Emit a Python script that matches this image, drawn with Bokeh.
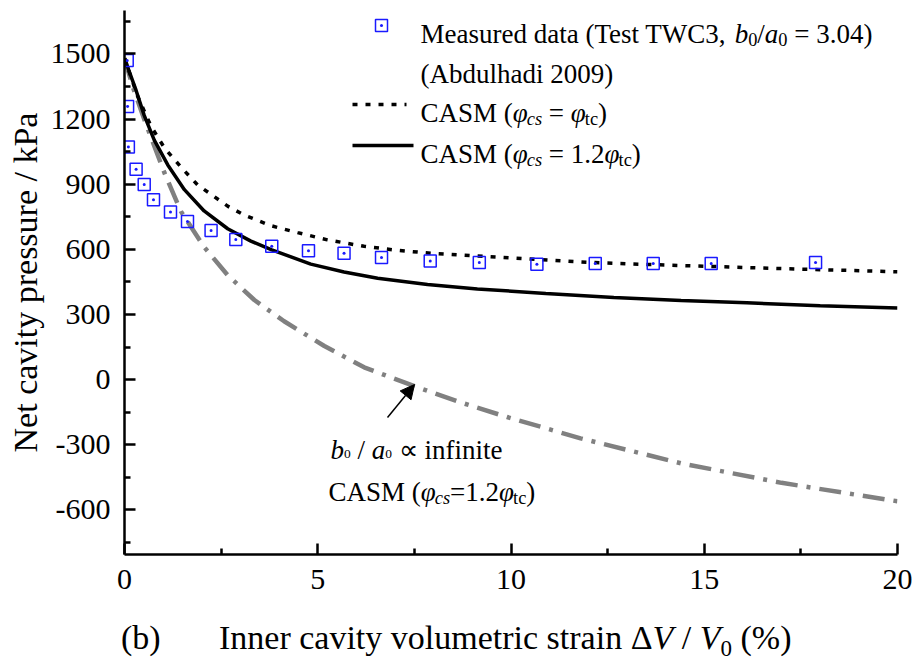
from bokeh.plotting import figure
from bokeh.layouts import column
from bokeh.models import Range1d, FixedTicker, Label, Arrow, NormalHead, Div
from bokeh.embed import file_html
from bokeh.resources import INLINE

# ---------------- data ----------------
meas_x = [0.07, 0.08, 0.10, 0.30, 0.51, 0.75, 1.19, 1.63, 2.24, 2.88, 3.81, 4.76, 5.68, 6.65, 7.91, 9.18, 10.67, 12.18, 13.68, 15.18, 17.88]
meas_y = [1470, 1258, 1071, 969, 899, 829, 772, 728, 687, 646, 614, 594, 582, 563, 547, 540, 531, 535, 535, 535, 540]

casm_x = [0, 0.34, 0.69, 1.03, 1.46, 1.89, 2.67, 3.10, 3.79, 4.48, 5.25, 6.20, 7.00, 7.93, 9.13, 10.5, 12.06, 13.6, 15.24, 17.5, 20.0]
casm_y = [1480, 1305, 1166, 1068, 979, 897, 799, 758, 709, 677, 644, 614, 597, 582, 570, 556, 540, 530, 521, 509, 497]

casm12_x = [0, 0.30, 0.51, 0.77, 1.12, 1.55, 2.06, 2.67, 3.27, 3.81, 4.82, 5.68, 6.55, 7.84, 9.13, 10.9, 12.66, 14.4, 16.1, 18.0, 20.0]
casm12_y = [1480, 1332, 1217, 1103, 989, 875, 777, 695, 638, 598, 532, 496, 467, 438, 418, 397, 378, 365, 354, 341, 330]

inf_x = [0, 0.22, 0.51, 1.03, 1.46, 2.06, 2.67, 3.36, 4.13, 5.17, 6.20, 7.50, 8.70, 9.90, 11.8, 14.4, 17.0, 20.0]
inf_y = [1480, 1345, 1199, 954, 775, 611, 481, 367, 269, 155, 57, -30, -105, -172, -270, -385, -475, -560]

x_ticks = [0, 5, 10, 15, 20]
x_minor = [2.5, 7.5, 12.5, 17.5]
y_ticks = [-600, -300, 0, 300, 600, 900, 1200, 1500]
y_minor = [-750, -450, -150, 150, 450, 750, 1050, 1350, 1650]
y_labels = {-600: "-600", -300: "-300"}

# ---------------- layout ----------------
W = 912
H1, H2 = 612, 48
BL, BR, BT, BB = 124, 15, 10, 58
X_MIN, X_MAX = 0, 20
Y_MIN, Y_MAX = -805, 1700
FW = W - BL - BR
FH = H1 - BT - BB
PX_X = FW / (X_MAX - X_MIN)
PX_Y = FH / (Y_MAX - Y_MIN)
FONT = "Liberation Serif"
AXFONT = "'Liberation Serif', 'Times New Roman', serif"


def dx(px):
    return X_MIN + (px - BL) / PX_X


def dy(py):
    return Y_MAX - (py - BT) / PX_Y


p = figure(width=W, height=H1, output_backend="svg", toolbar_location=None,
           x_range=Range1d(X_MIN, X_MAX), y_range=Range1d(Y_MIN, Y_MAX),
           min_border_left=BL, min_border_right=BR,
           min_border_top=BT, min_border_bottom=BB)
p.outline_line_color = None
p.grid.visible = False

for ax in (p.xaxis[0], p.yaxis[0]):
    ax.axis_line_width = 2.5
    ax.axis_line_color = "black"
    ax.major_tick_line_width = 2.5
    ax.minor_tick_line_width = 2.5
    ax.major_tick_line_color = "black"
    ax.minor_tick_line_color = "black"
    ax.major_tick_in = 11
    ax.major_tick_out = 0
    ax.minor_tick_in = 6
    ax.minor_tick_out = 0
    ax.major_label_text_font = AXFONT
    ax.major_label_text_font_size = "30px"
    ax.major_label_text_font_style = "normal"
    ax.major_label_text_color = "black"

p.xaxis[0].ticker = FixedTicker(ticks=x_ticks, minor_ticks=x_minor)
p.yaxis[0].ticker = FixedTicker(ticks=y_ticks, minor_ticks=y_minor)
p.yaxis[0].major_label_overrides = y_labels
p.xaxis[0].major_label_standoff = 15
p.yaxis[0].major_label_standoff = 14

p.yaxis[0].axis_label = "Net cavity pressure / kPa"
p.yaxis[0].axis_label_text_font = AXFONT
p.yaxis[0].axis_label_text_font_size = "34px"
p.yaxis[0].axis_label_text_font_style = "normal"
p.yaxis[0].axis_label_text_color = "black"
p.yaxis[0].axis_label_standoff = 4

# ---------------- series ----------------
p.line(inf_x, inf_y, line_color="#808080", line_width=4.5, line_dash="22 9 4 9")
p.line(casm_x, casm_y, line_color="black", line_width=3.5, line_dash="5 8")
p.line(casm12_x, casm12_y, line_color="black", line_width=3.5)
p.scatter(meas_x, meas_y, marker="square_dot", size=12, line_color="#1a1aff",
          fill_color=None, line_width=1.5)

# ---------------- rich text helper ----------------
REG = {' ': 250, '(': 333, ')': 333, '=': 564, '.': 250, ',': 250, '/': 278, '%': 833,
       'A': 722, 'C': 667, 'D': 722, 'I': 333, 'M': 889, 'S': 556, 'T': 611, 'V': 722,
       'W': 944, 'a': 444, 'b': 500, 'c': 444, 'd': 500, 'e': 444, 'f': 333, 'h': 500,
       'i': 278, 'l': 278, 'm': 778, 'n': 500, 'o': 500, 'r': 333, 's': 389, 't': 278,
       'u': 500, 'v': 500, 'y': 500, 'Δ': 612, '∝': 713}
for d in "0123456789":
    REG[d] = 500
ITA = {'a': 500, 'b': 500, 'c': 444, 's': 389, 'V': 611, 'φ': 520, ' ': 250}


def tw(s, italic, fs):
    tab = ITA if italic else REG
    return sum(tab.get(ch, 500) for ch in s) * fs / 1000.0


def rich(x_px, base_px, pieces, fs):
    cur = x_px
    for text, ital, kind in pieces:
        if kind == "sub":
            f, b = fs * 0.68, base_px + fs * 0.2
        elif kind == "tiny":
            f, b = fs * 0.5, base_px + fs * 0.15
        else:
            f, b = fs, base_px
        lead = len(text) - len(text.lstrip(' '))
        cur += tw(' ' * lead, ital, f)
        body = text.strip(' ')
        if body:
            p.add_layout(Label(x=dx(cur), y=dy(b), text=body, text_font=FONT,
                               text_font_size=f"{f:.1f}px",
                               text_font_style="italic" if ital else "normal",
                               text_baseline="alphabetic", text_align="left",
                               text_color="black"))
        cur += tw(text[lead:], ital, f)


# ---------------- legend ----------------
LF = 27
rows = [25, 65, 104, 145]
TX = 420
p.scatter([dx(381)], [dy(rows[0])], marker="square_dot", size=12, line_color="#1a1aff",
          fill_color=None, line_width=1.5)
p.line([dx(352), dx(406)], [dy(rows[2])] * 2, line_color="black", line_width=3.5, line_dash="5 8")
p.line([dx(352), dx(413)], [dy(rows[3])] * 2, line_color="black", line_width=3.5)

rich(TX, rows[0] + 0.33 * LF,
     [("Measured data (Test TWC3, ", False, "n"), ("b", True, "n"), ("0", False, "sub"),
      ("/", False, "n"), ("a", True, "n"), ("0", False, "sub"), (" = 3.04)", False, "n")], LF)
rich(TX, rows[1] + 0.33 * LF, [("(Abdulhadi 2009)", False, "n")], LF)
rich(TX, rows[2] + 0.33 * LF,
     [("CASM (", False, "n"), ("φ", True, "n"), ("cs", True, "sub"), (" = ", False, "n"),
      ("φ", True, "n"), ("tc", False, "sub"), (")", False, "n")], LF)
rich(TX, rows[3] + 0.33 * LF,
     [("CASM (", False, "n"), ("φ", True, "n"), ("cs", True, "sub"), (" = 1.2", False, "n"),
      ("φ", True, "n"), ("tc", False, "sub"), (")", False, "n")], LF)

# ---------------- annotation ----------------
rich(330, 441 + 0.33 * LF,
     [("b", True, "n"), ("0", False, "tiny"), (" / ", False, "n"), ("a", True, "n"),
      ("0", False, "tiny"), (" ∝ infinite", False, "n")], LF)
rich(328, 483 + 0.33 * LF,
     [("CASM (", False, "n"), ("φ", True, "n"), ("cs", True, "sub"), ("=1.2", False, "n"),
      ("φ", True, "n"), ("tc", False, "sub"), (")", False, "n")], LF)
p.add_layout(Arrow(end=NormalHead(size=14, fill_color="black", line_color="black"),
                   x_start=dx(387), y_start=dy(417), x_end=dx(414), y_end=dy(384),
                   line_width=1.5, line_color="black"))

# ---------------- x-axis title (HTML text strip under the plot) ----------------
title_html = (
    f'<div style="position:relative;width:{W}px;height:{H2}px;font-family:\'Liberation Serif\';'
    'font-size:34px;color:#000;line-height:34px;white-space:nowrap;">'
    '<span style="position:absolute;left:121px;top:9px;">(b)</span>'
    '<span style="position:absolute;left:219px;top:9px;">Inner cavity volumetric strain '
    '&Delta;<i>V</i> / <i>V</i><span style="font-size:23px;position:relative;top:7px;">0</span>'
    ' (%)</span></div>'
)
xtitle = Div(text=title_html, width=W, height=H2, margin=0)

layout = column(p, xtitle, spacing=0)
open("out.html", "w").write(file_html(layout, INLINE))
